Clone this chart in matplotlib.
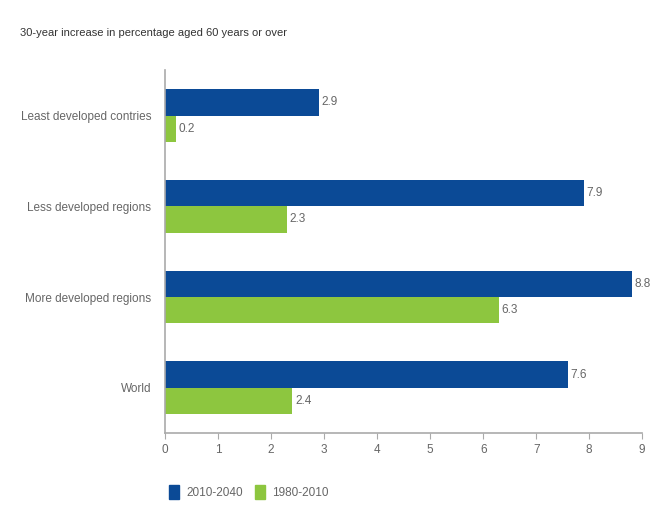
import matplotlib
matplotlib.use("Agg")
import matplotlib.pyplot as plt
import numpy as np
from matplotlib.patches import Patch

plt.rcParams['font.family'] = ['Liberation Sans', 'DejaVu Sans']

categories = ["Least developed contries", "Less developed regions",
              "More developed regions", "World"]
series_2010_2040 = [2.9, 7.9, 8.8, 7.6]
series_1980_2010 = [0.2, 2.3, 6.3, 2.4]
labels = ["2010-2040", "1980-2010"]
xticks = list(range(0, 10))

blue = "#0b4a96"
green = "#8dc63f"
gray = "#666666"

fig = plt.figure(figsize=(6.58, 5.12), dpi=100)
ax = fig.add_axes([0.251, 0.154, 0.725, 0.709])

y = np.arange(len(categories))
h = 0.29
ax.barh(y - h / 2, series_2010_2040, height=h, color=blue)
ax.barh(y + h / 2, series_1980_2010, height=h, color=green)

for yi, v in zip(y, series_2010_2040):
    ax.text(v + 0.05, yi - h / 2, f"{v}", va="center", ha="left", fontsize=8.5, color=gray)
for yi, v in zip(y, series_1980_2010):
    ax.text(v + 0.05, yi + h / 2, f"{v}", va="center", ha="left", fontsize=8.5, color=gray)

ax.set_ylim(len(categories) - 0.5, -0.5)
ax.set_xlim(0, 9)
ax.set_xticks(xticks)
ax.set_yticks(y)
ax.set_yticklabels(categories)
ax.tick_params(axis="y", length=0, pad=10, labelsize=8.5, labelcolor=gray)
ax.tick_params(axis="x", length=4, direction="out", labelsize=8.5, labelcolor=gray, color="#aaaaaa")
for s in ["top", "right"]:
    ax.spines[s].set_visible(False)
for s in ["left", "bottom"]:
    ax.spines[s].set_color("#aaaaaa")
    ax.spines[s].set_linewidth(1.2)

fig.text(0.03, 0.935, "30-year increase in percentage aged 60 years or over",
         fontsize=8, color="#333333", va="center")

handles = [Patch(color=blue), Patch(color=green)]
fig.legend(handles, labels, loc="center left", bbox_to_anchor=(0.24, 0.039),
           ncol=2, frameon=False, fontsize=8.5, handlelength=0.9, handleheight=1.4,
           columnspacing=1.0, handletextpad=0.6, labelcolor=gray)

fig.savefig("out.png", dpi=100)
